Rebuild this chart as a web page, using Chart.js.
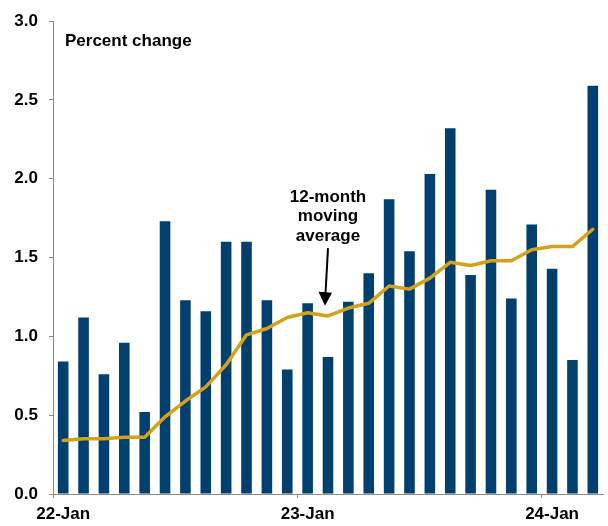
<!DOCTYPE html>
<html>
<head>
<meta charset="utf-8">
<script src="https://cdn.jsdelivr.net/npm/chart.js@4/dist/chart.umd.min.js"></script>
<style>
  html, body { margin: 0; padding: 0; background: #fff; }
  #wrap { width: 608px; height: 526px; }
</style>
</head>
<body>
<div id="wrap"><canvas id="cpi" width="608" height="526"></canvas></div>
<script>
/* monthly percent change (bars) with its 12-month moving average (line) */
var months = [
  '22-Jan', '22-Feb', '22-Mar', '22-Apr', '22-May', '22-Jun', '22-Jul', '22-Aug', '22-Sep',
  '22-Oct', '22-Nov', '22-Dec', '23-Jan', '23-Feb', '23-Mar', '23-Apr', '23-May', '23-Jun',
  '23-Jul', '23-Aug', '23-Sep', '23-Oct', '23-Nov', '23-Dec', '24-Jan', '24-Feb', '24-Mar'
];
var monthly = [0.84, 1.12, 0.76, 0.96, 0.52, 1.73, 1.23, 1.16, 1.60, 1.60, 1.23, 0.79, 1.21, 0.87,
  1.22, 1.40, 1.87, 1.54, 2.03, 2.32, 1.39, 1.93, 1.24, 1.71, 1.43, 0.85, 2.59];
var movingAvg = [0.34, 0.35, 0.35, 0.36, 0.36, 0.49, 0.59, 0.68, 0.82, 1.01, 1.05, 1.12, 1.15, 1.13,
  1.18, 1.21, 1.32, 1.30, 1.37, 1.47, 1.45, 1.48, 1.48, 1.55, 1.57, 1.57, 1.68];
var yTicks = [0, 0.5, 1.0, 1.5, 2.0, 2.5, 3.0];

var FONT = '"Liberation Sans", Arial, sans-serif';
var NAVY = '#003f6e';
var GOLD = '#d4a11c';
var AXIS = '#8a8a8a';

function isJan(i) { return months[i] && months[i].slice(-3) === 'Jan'; }

/* unit label + arrow note pointing at the average line */
var notes = {
  id: 'notes',
  afterDatasetsDraw: function (chart) {
    var c = chart.ctx, a = chart.chartArea;
    var xs = chart.scales.x, ys = chart.scales.y;
    c.save();
    c.fillStyle = '#000';
    c.font = 'bold 17px ' + FONT;
    c.textAlign = 'left';
    c.textBaseline = 'alphabetic';
    c.fillText('Percent change', a.left + 12, a.top + 25);

    var ax = xs.getPixelForValue(13);
    c.textAlign = 'center';
    c.fillText('12-month', ax, ys.getPixelForValue(1.853));
    c.fillText('moving', ax, ys.getPixelForValue(1.73));
    c.fillText('average', ax, ys.getPixelForValue(1.605));

    var y0 = ys.getPixelForValue(1.56), y1 = ys.getPixelForValue(1.195);
    var x0 = ax, x1 = ax - 3;
    c.strokeStyle = '#000';
    c.lineWidth = 2;
    c.beginPath();
    c.moveTo(x0, y0);
    c.lineTo(x1 + 0.5, y1 - 12);
    c.stroke();
    c.beginPath();
    c.moveTo(x1, y1);
    c.lineTo(x1 - 6.5, y1 - 14);
    c.lineTo(x1 + 7, y1 - 13);
    c.closePath();
    c.fill();
    c.restore();
  }
};

new Chart(document.getElementById('cpi'), {
  data: {
    labels: months,
    datasets: [
      {
        type: 'line', label: '12-month moving average', data: movingAvg, order: 0,
        borderColor: GOLD, borderWidth: 3.5, pointRadius: 0, tension: 0,
        borderJoinStyle: 'round', borderCapStyle: 'round'
      },
      {
        type: 'bar', label: 'Percent change', data: monthly, order: 1,
        backgroundColor: NAVY, barPercentage: 0.52, categoryPercentage: 1
      }
    ]
  },
  options: {
    responsive: false,
    animation: false,
    layout: { padding: { top: 19, right: 5, left: 0, bottom: 0 } },
    plugins: { legend: { display: false }, tooltip: { enabled: false } },
    scales: {
      x: {
        offset: true,
        grid: {
          offset: true, drawOnChartArea: false, drawTicks: true, tickLength: 4,
          color: function (ctx) { return (ctx.index !== undefined && isJan(ctx.index)) ? AXIS : 'rgba(0,0,0,0)'; }
        },
        border: { display: true, color: AXIS, width: 1 },
        ticks: {
          autoSkip: false, maxRotation: 0, padding: 6, color: '#000',
          font: { family: FONT, size: 17, weight: 'bold' },
          callback: function (v, i) { return isJan(i) ? months[i] : ''; }
        },
        afterFit: function (s) { s.height = 32; }
      },
      y: {
        min: 0, max: 3,
        afterBuildTicks: function (s) { s.ticks = yTicks.map(function (v) { return { value: v }; }); },
        grid: { drawOnChartArea: false, drawTicks: true, tickLength: 4, color: AXIS },
        border: { display: true, color: AXIS, width: 1 },
        ticks: {
          padding: 11, color: '#000',
          font: { family: FONT, size: 17, weight: 'bold' },
          callback: function (v) { return Number(v).toFixed(1); }
        },
        afterFit: function (s) { s.width = 53; }
      }
    }
  },
  plugins: [notes]
});
</script>
</body>
</html>
